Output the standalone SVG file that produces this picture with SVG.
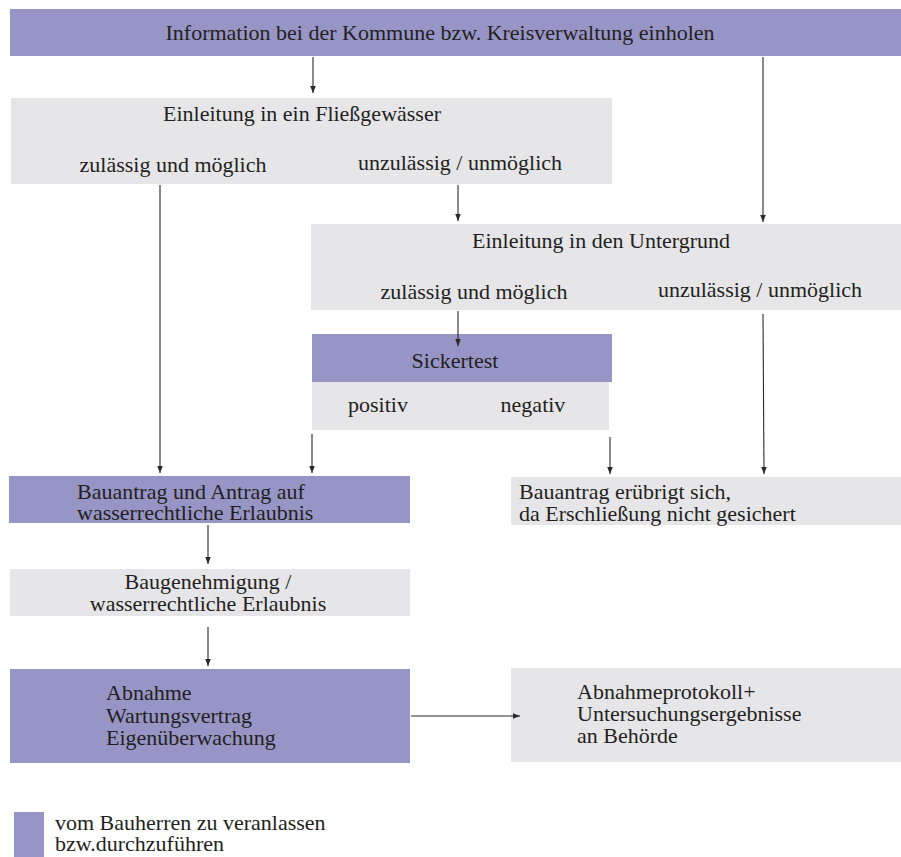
<svg xmlns="http://www.w3.org/2000/svg" width="901" height="857" viewBox="0 0 901 857">
  <style>
    .p { fill: #9795c6; }
    .g { fill: #e6e6e8; }
    text { font-family: "Liberation Serif", "Times New Roman", serif; font-size: 22px; fill: #231f20; }
    .c { text-anchor: middle; }
    .edge { stroke: #2a2a2a; stroke-width: 1.1; fill: none; marker-end: url(#ah); }
  </style>
  <defs>
    <marker id="ah" viewBox="0 0 10 10" refX="10" refY="5" markerUnits="userSpaceOnUse" markerWidth="7" markerHeight="10" orient="auto">
      <path d="M0,1 L10,5 L0,9 z" fill="#2a2a2a"/>
    </marker>
  </defs>
  <rect width="901" height="857" fill="#ffffff"/>

  <g id="info">
    <rect class="p" x="10" y="9" width="891" height="47"/>
    <text class="c" x="440" y="40">Information bei der Kommune bzw. Kreisverwaltung einholen</text>
  </g>

  <g id="fliessgewaesser">
    <rect class="g" x="11" y="98" width="601" height="86"/>
    <text class="c" x="302" y="121">Einleitung in ein Fließgewässer</text>
    <text class="c" x="173" y="172">zulässig und möglich</text>
    <text class="c" x="460" y="170">unzulässig / unmöglich</text>
  </g>

  <g id="untergrund">
    <rect class="g" x="311" y="224" width="590" height="86"/>
    <text class="c" x="601" y="248">Einleitung in den Untergrund</text>
    <text class="c" x="474" y="299">zulässig und möglich</text>
    <text class="c" x="760" y="297">unzulässig / unmöglich</text>
  </g>

  <g id="sickertest">
    <rect class="p" x="312" y="334" width="300" height="48"/>
    <rect class="g" x="312" y="382" width="297" height="48"/>
    <text class="c" x="455" y="368">Sickertest</text>
    <text class="c" x="378" y="412">positiv</text>
    <text class="c" x="533" y="412">negativ</text>
  </g>

  <g id="bauantrag">
    <rect class="p" x="9" y="476" width="401" height="47"/>
    <text x="77" y="499">Bauantrag und Antrag auf</text>
    <text x="77" y="520">wasserrechtliche Erlaubnis</text>
  </g>

  <g id="eruebrigt">
    <rect class="g" x="511" y="477" width="390" height="48"/>
    <text x="519" y="499">Bauantrag erübrigt sich,</text>
    <text x="519" y="521">da Erschließung nicht gesichert</text>
  </g>

  <g id="baugenehmigung">
    <rect class="g" x="10" y="569" width="400" height="47"/>
    <text class="c" x="208" y="589">Baugenehmigung /</text>
    <text class="c" x="208" y="611">wasserrechtliche Erlaubnis</text>
  </g>

  <g id="abnahme">
    <rect class="p" x="10" y="669" width="400" height="94"/>
    <text x="106" y="700">Abnahme</text>
    <text x="106" y="723">Wartungsvertrag</text>
    <text x="106" y="745">Eigenüberwachung</text>
  </g>

  <g id="protokoll">
    <rect class="g" x="511" y="668" width="390" height="94"/>
    <text x="577" y="699">Abnahmeprotokoll+</text>
    <text x="577" y="721">Untersuchungsergebnisse</text>
    <text x="577" y="743">an Behörde</text>
  </g>

  <g id="legende">
    <rect class="p" x="14" y="812" width="30" height="45"/>
    <text x="55" y="830">vom Bauherren zu veranlassen</text>
    <text x="55" y="851">bzw.durchzuführen</text>
  </g>

  <g id="connectors">
    <line class="edge" x1="313" y1="57" x2="313" y2="93"/>
    <line class="edge" x1="763" y1="57" x2="763" y2="222"/>
    <line class="edge" x1="160" y1="185" x2="160" y2="473"/>
    <line class="edge" x1="458" y1="185" x2="458" y2="221"/>
    <line class="edge" x1="458" y1="311" x2="458" y2="346"/>
    <line class="edge" x1="763" y1="314" x2="764" y2="474"/>
    <line class="edge" x1="312" y1="434" x2="312" y2="473"/>
    <line class="edge" x1="610" y1="437" x2="610" y2="474"/>
    <line class="edge" x1="208" y1="525" x2="208" y2="564"/>
    <line class="edge" x1="208" y1="627" x2="208" y2="666"/>
    <line class="edge" x1="411" y1="716" x2="520" y2="716"/>
  </g>
</svg>
